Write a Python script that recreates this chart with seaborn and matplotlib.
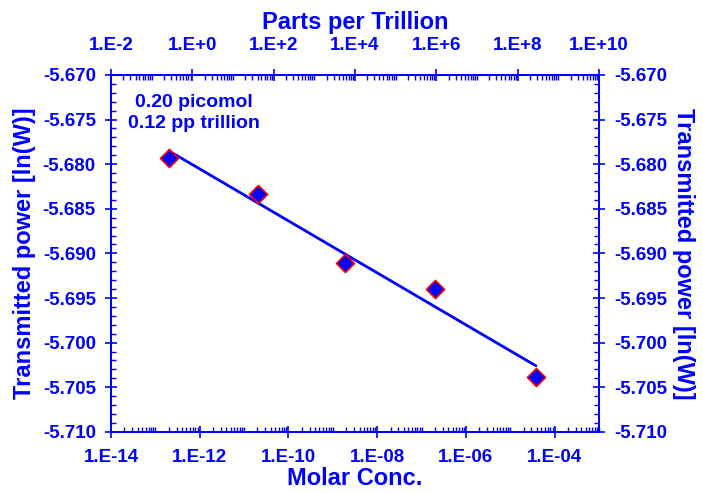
import numpy as np
import pandas as pd
import matplotlib
matplotlib.use("Agg")
import matplotlib.pyplot as plt
import matplotlib.ticker as mticker
import seaborn as sns

# measured points (molar concentration vs transmitted power)
molar_conc = [2.0e-13, 2.1e-11, 1.9e-9, 2.0e-7, 3.8e-5]
power = [-5.67933, -5.68333, -5.69110, -5.69394, -5.70384]

x_ticks = [1e-14, 1e-12, 1e-10, 1e-8, 1e-6, 1e-4]
x_labels = ["1.E-14", "1.E-12", "1.E-10", "1.E-08", "1.E-06", "1.E-04"]
top_ticks = [1e-2, 1e0, 1e2, 1e4, 1e6, 1e8, 1e10]
top_labels = ["1.E-2", "1.E+0", "1.E+2", "1.E+4", "1.E+6", "1.E+8", "1.E+10"]
y_ticks = [-5.670, -5.675, -5.680, -5.685, -5.690, -5.695, -5.700, -5.705, -5.710]

blue = "#0000FF"

sns.set_style("ticks")
plt.rcParams["font.family"] = ["Liberation Sans", "DejaVu Sans"]
plt.rcParams["font.weight"] = "bold"

df = pd.DataFrame({"conc": molar_conc, "power": power})

fig, ax = plt.subplots(figsize=(7.03, 4.93), dpi=100)
fig.subplots_adjust(left=0.158, right=0.852, top=0.848, bottom=0.124)

sns.regplot(data=df, x="conc", y="power", logx=True, ci=None, marker="D", ax=ax,
            scatter_kws={"s": 85, "color": blue, "edgecolors": "red", "linewidths": 1.2,
                         "alpha": 1, "zorder": 3},
            line_kws={"color": blue, "lw": 2})

ax.set_xscale("log")
ax.set_xlim(1e-14, 1e-3)
ax.set_ylim(-5.710, -5.670)
ax.set_xticks(x_ticks)
ax.set_xticklabels(x_labels)
ax.xaxis.set_minor_locator(mticker.LogLocator(base=10, subs=np.arange(1, 10), numticks=50))
ax.xaxis.set_minor_formatter(mticker.NullFormatter())
ax.set_yticks(y_ticks)
ax.yaxis.set_major_formatter(mticker.FormatStrFormatter("%.3f"))
ax.yaxis.set_minor_locator(mticker.MultipleLocator(0.001))
ax.set_xlabel("Molar Conc.", fontsize=17, fontweight="bold", color=blue, labelpad=1)
ax.set_ylabel("Transmitted power [ln(W)]", fontsize=17, fontweight="bold", color=blue, labelpad=5)

ax.text(0.17, 0.893, "0.20 picomol\n0.12 pp trillion", transform=ax.transAxes,
        ha="center", va="center", fontsize=14, fontweight="bold", color=blue,
        linespacing=1.3)

top = ax.twiny()
top.set_xscale("log")
top.set_xlim(1e-2, 1e10)
top.set_xticks(top_ticks)
top.set_xticklabels(top_labels)
top.xaxis.set_minor_locator(mticker.LogLocator(base=10, subs=np.arange(1, 10), numticks=50))
top.xaxis.set_minor_formatter(mticker.NullFormatter())
top.set_xlabel("Parts per Trillion", fontsize=17, fontweight="bold", color=blue, labelpad=6)

right = ax.twinx()
right.set_ylim(-5.710, -5.670)
right.set_yticks(y_ticks)
right.yaxis.set_major_formatter(mticker.FormatStrFormatter("%.3f"))
right.yaxis.set_minor_locator(mticker.MultipleLocator(0.001))
right.set_ylabel("Transmitted power [ln(W)]", fontsize=17, fontweight="bold",
                 color=blue, rotation=270, labelpad=20)

for a in (ax, top, right):
    for sp in a.spines.values():
        sp.set_color(blue)
        sp.set_linewidth(1.2)
    a.tick_params(which="major", direction="inout", length=8, width=1.2, colors=blue,
                  labelsize=13.5, pad=7)
    a.tick_params(which="minor", direction="in", length=3.5, width=1, colors=blue)
    for lab in a.get_xticklabels() + a.get_yticklabels():
        lab.set_fontweight("bold")

ax.tick_params(axis="x", which="major", pad=8)
top.tick_params(axis="x", which="major", pad=11)

fig.savefig("out.png", dpi=100)
